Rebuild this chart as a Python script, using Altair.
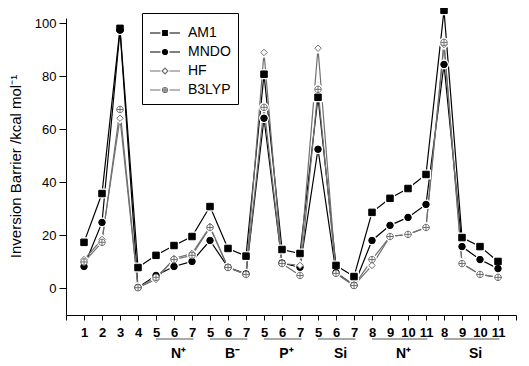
import json
import altair as alt
import pandas as pd

# ---------------- data ----------------
positions = list(range(1, 25))
x_labels = ["1", "2", "3", "4", "5", "6", "7", "5", "6", "7", "5", "6", "7",
            "5", "6", "7", "8", "9", "10", "11", "8", "9", "10", "11"]
series_names = ["AM1", "MNDO", "HF", "B3LYP"]
am1 = [17.4, 35.8, 98.1, 7.9, 12.5, 16.2, 19.6, 30.9, 15.1, 12.2, 80.8, 14.7,
       13.2, 72.1, 8.7, 4.5, 28.7, 34.0, 37.7, 43.0, 104.9, 19.2, 15.8, 10.2]
mndo = [8.3, 24.9, 97.4, 0.4, 4.9, 8.3, 10.2, 18.1, 8.0, 5.5, 64.2, 9.6,
        8.0, 52.5, 6.0, 1.2, 18.1, 23.8, 26.8, 31.7, 84.5, 15.8, 10.9, 7.5]
hf = [10.9, 18.5, 64.2, 0.3, 3.4, 11.3, 13.2, 23.4, 7.9, 5.3, 89.0, 9.4,
      8.7, 90.6, 5.7, 1.1, 8.7, 19.6, 20.4, 23.0, 92.0, 9.4, 5.3, 4.2]
b3lyp = [10.0, 17.4, 67.5, 0.3, 4.2, 10.9, 12.5, 23.0, 7.9, 5.3, 68.3, 9.4,
         4.9, 75.1, 5.7, 1.1, 10.9, 19.6, 20.4, 23.0, 92.8, 9.4, 5.3, 4.2]
group_names = ["N⁺", "B⁻", "P⁺", "Si", "N⁺", "Si"]
group_start = [5, 8, 11, 14, 17, 21]
group_end = [7, 10, 13, 16, 20, 24]
y_ticks = [0, 20, 40, 60, 80, 100]

# ---------------- tables ----------------
rows = []
for name, vals in zip(series_names, [am1, mndo, hf, b3lyp]):
    for p, v in zip(positions, vals):
        rows.append({"pos": p, "series": name, "value": v})
df = pd.DataFrame(rows)

group_lines = pd.DataFrame({
    "pos": group_start,
    "pos_end": [e + 0.08 for e in group_end],
})
group_text = pd.DataFrame({
    "pos": [(s + e) / 2 + 0.25 for s, e in zip(group_start, group_end)],
    "name": group_names,
})

FONT = "Liberation Sans"
CROSS = "M-1,0A1,1 0 1,0 1,0A1,1 0 1,0 -1,0ZM-1,0H1M0,-1V1"
plot_shapes = ["square", "circle", "diamond", CROSS]

# legend glyphs: line segment - marker - line segment (unit = 6 px)
seg = "M-1,0H0.75M2.25,0H4"
r = 0.42
circ = f"M{1.5 - r},0A{r},{r} 0 1,0 {1.5 + r},0A{r},{r} 0 1,0 {1.5 - r},0Z"
legend_shapes = [
    seg + f"M{1.5 - 0.38},-0.38H{1.5 + 0.38}V0.38H{1.5 - 0.38}Z",
    seg + circ,
    seg + "M1.5,-0.48L1.98,0L1.5,0.48L1.02,0Z",
    seg + circ + f"M{1.5 - r},0H{1.5 + r}M1.5,-{r}V{r}",
]

stroke_scale = alt.Scale(domain=series_names, range=["#000000", "#000000", "#707070", "#707070"])
fill_scale = alt.Scale(domain=series_names, range=["#000000", "#000000", "#ffffff", "#ffffff"])
legend_shape_scale = alt.Scale(domain=series_names, range=legend_shapes)

legend = alt.Legend(
    title=" ", titleFontSize=6, titlePadding=0, orient="none", legendX=76, legendY=-5,
    direction="vertical", strokeColor="black", fillColor="white", padding=7, rowPadding=5,
    symbolSize=144, symbolStrokeWidth=1.2, labelOffset=25,
    labelFont=FONT, labelFontSize=14, labelColor="black",
)

label_expr = json.dumps([""] + x_labels + [""]) + "[datum.value]"

x_enc = alt.X("pos:Q", scale=alt.Scale(domain=[0, 25], nice=False),
              axis=alt.Axis(values=list(range(26)), labelExpr=label_expr, title=None,
                            labelFontWeight="bold", labelFontSize=13,
                            ticks=True, tickSize=5, tickColor="black", labelPadding=6))
y_enc = alt.Y("value:Q", scale=alt.Scale(domain=[-10, 102], nice=False, zero=False),
              axis=alt.Axis(values=y_ticks, title="Inversion Barrier /kcal mol⁻¹",
                            labelFontSize=13, ticks=True, tickSize=7, tickColor="black",
                            labelPadding=3,
                            titleFontSize=15, titleFontWeight="normal",
                            titleX=-51, titleY=148, titleAngle=-90,
                            titleAlign="center", titleBaseline="middle"))

base = alt.Chart(df)

layers = [base.mark_line(strokeWidth=1.2).encode(
    stroke=alt.Stroke("series:N", scale=stroke_scale, legend=legend),
)]

for name, shp in zip(series_names, plot_shapes):
    layers.append(
        base.transform_filter(alt.datum.series == name)
        .mark_point(size=42, opacity=1, filled=True, shape=shp)
        .encode(fill=alt.value("white"), stroke=alt.value("white"), strokeWidth=alt.value(3.5))
    )
for name, shp in zip(series_names, plot_shapes):
    layers.append(
        base.transform_filter(alt.datum.series == name)
        .mark_point(size=42, opacity=1, filled=True, shape=shp, strokeWidth=1)
        .encode(fill=alt.Fill("series:N", scale=fill_scale, legend=legend),
                stroke=alt.Stroke("series:N", scale=stroke_scale, legend=legend))
    )

# legend-only layer: carries the legend symbols (line segment + marker)
layers.append(
    base.transform_filter("false")
    .mark_point(filled=True, opacity=1)
    .encode(shape=alt.Shape("series:N", scale=legend_shape_scale, legend=legend),
            fill=alt.Fill("series:N", scale=fill_scale, legend=legend),
            stroke=alt.Stroke("series:N", scale=stroke_scale, legend=legend))
)

layers.append(alt.Chart(group_lines).mark_rule(color="#555555", strokeWidth=1.2).encode(
    x2="pos_end:Q", y=alt.value(321),
))
layers.append(alt.Chart(group_text).mark_text(fontWeight="bold", fontSize=14, font=FONT,
                                              color="black", baseline="middle",
                                              align="center").encode(
    y=alt.value(336), text="name:N",
))

chart = alt.layer(*layers).encode(x=x_enc, y=y_enc).properties(
    width=450, height=297,
    autosize=alt.AutoSizeParams(type="none"),
    padding={"left": 58, "top": 10, "right": 5, "bottom": 50},
    background="white",
).configure_view(strokeWidth=0).configure_axis(
    grid=False, tickWidth=1,
    domainColor="black", domainWidth=1, labelColor="black", titleColor="black",
    labelFont=FONT, titleFont=FONT, labelOverlap=False, labelFlush=False,
)

chart.save("out.html", embed_options={"renderer": "svg", "actions": False})
